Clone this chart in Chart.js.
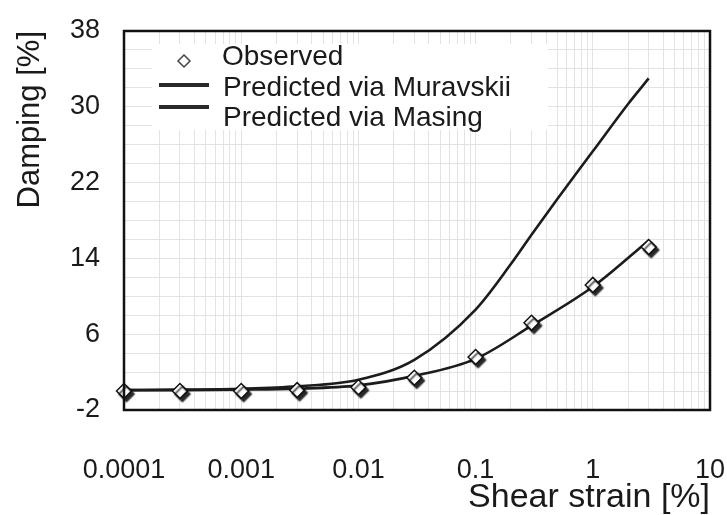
<!DOCTYPE html>
<html>
<head>
<meta charset="utf-8">
<script src="https://cdn.jsdelivr.net/npm/chart.js@4/dist/chart.umd.min.js"></script>
<style>
  html, body { margin: 0; padding: 0; background: #fff; }
  #wrap { width: 727px; height: 515px; position: relative; }
</style>
</head>
<body>
<div id="wrap"><canvas id="chart"></canvas></div>
<script>
// Damping ratio versus shear strain: laboratory points and two model curves
const strainObserved = [0.0001, 0.0003, 0.001, 0.003, 0.01, 0.03, 0.1, 0.3, 1, 3];
const dampingObserved = [0.0, 0.0, 0.0, 0.1, 0.4, 1.4, 3.6, 7.2, 11.2, 15.2];

const strainMuravskii = [0.0001, 0.0003, 0.001, 0.003, 0.01, 0.03, 0.1, 0.3, 1, 3];
const dampingMuravskii = [0.1, 0.1, 0.15, 0.25, 0.6, 1.6, 3.4, 6.9, 11.0, 15.9];

const strainMasing = [0.0001, 0.0003, 0.001, 0.003, 0.01, 0.03, 0.1, 0.2, 0.3, 0.5, 1, 2, 3];
const dampingMasing = [0.1, 0.15, 0.25, 0.5, 1.2, 3.3, 8.6, 13.4, 16.5, 20.3, 25.3, 30.3, 33.0];

const strainTickLabels = ['0.0001', '0.001', '0.01', '0.1', '1', '10'];
const dampingTickLabels = ['-2', '6', '14', '22', '30', '38'];
const seriesNames = ['Observed', 'Predicted via Muravskii', 'Predicted via Masing'];

const INK = '#1a1a1a';
const GRID = '#e3e3e3';
const FONT = "'Liberation Sans', Arial, Helvetica, sans-serif";

// log grid: 1..9 within each decade, plus the last decade value
const decades = strainTickLabels.map(Number);
const strainGrid = [];
for (let d = 0; d < decades.length - 1; d++) {
  for (let k = 1; k <= 9; k++) strainGrid.push(+(decades[d] * k).toPrecision(6));
}
strainGrid.push(decades[decades.length - 1]);

const toPoints = (xs, ys) => xs.map((x, i) => ({ x, y: ys[i] }));

const framePlugin = {
  id: 'plotFrame',
  beforeDatasetsDraw(chart) {
    const { ctx, chartArea: ca } = chart;
    ctx.save();
    ctx.fillStyle = '#ffffff';
    ctx.fillRect(ca.left + 28, ca.top + 13, 396, 86);
    ctx.restore();
  },
  beforeDatasetDraw(chart, args) {
    if (args.index !== 0) return;
    const ctx = chart.ctx;
    ctx.save();
    ctx.shadowColor = 'rgba(0,0,0,0.85)';
    ctx.shadowOffsetX = 2.5;
    ctx.shadowOffsetY = 3;
    ctx.shadowBlur = 1.5;
  },
  afterDatasetDraw(chart, args) {
    if (args.index !== 0) return;
    chart.ctx.restore();
  },
  afterDraw(chart) {
    const { ctx, chartArea: ca } = chart;
    const names = chart.data.datasets.map(d => d.label);
    ctx.save();
    // plot frame
    ctx.strokeStyle = '#111';
    ctx.lineWidth = 2.5;
    ctx.strokeRect(ca.left, ca.top, ca.right - ca.left, ca.bottom - ca.top);

    // legend
    const lx = ca.left, ly = ca.top;
    ctx.lineWidth = 1.5;
    ctx.strokeStyle = '#444';
    const cx = lx + 60, cy = ly + 30, r = 6;
    ctx.beginPath();
    ctx.moveTo(cx, cy - r); ctx.lineTo(cx + r, cy); ctx.lineTo(cx, cy + r); ctx.lineTo(cx - r, cy); ctx.closePath();
    ctx.stroke();

    ctx.strokeStyle = '#2a2a2a';
    ctx.lineWidth = 4;
    ctx.beginPath();
    ctx.moveTo(lx + 35, ly + 54); ctx.lineTo(lx + 85, ly + 54);
    ctx.moveTo(lx + 35, ly + 76); ctx.lineTo(lx + 85, ly + 76);
    ctx.stroke();

    ctx.fillStyle = INK;
    ctx.font = '28px ' + FONT;
    ctx.textAlign = 'left';
    ctx.textBaseline = 'middle';
    ctx.fillText(names[0], lx + 98, ly + 26);
    ctx.fillText(names[1], lx + 99, ly + 57);
    ctx.fillText(names[2], lx + 99, ly + 87);
    ctx.restore();
  }
};

new Chart(document.getElementById('chart'), {
  type: 'line',
  data: {
    datasets: [
      {
        label: seriesNames[0],
        data: toPoints(strainObserved, dampingObserved),
        showLine: false,
        pointStyle: 'rectRot',
        pointRadius: 7.5,
        pointBackgroundColor: '#ffffff',
        pointBorderColor: '#111',
        pointBorderWidth: 1.5,
        clip: false,
        order: 0
      },
      {
        label: seriesNames[1],
        data: toPoints(strainMuravskii, dampingMuravskii),
        borderColor: '#1c1c1c',
        borderWidth: 2.6,
        pointRadius: 0,
        cubicInterpolationMode: 'monotone',
        fill: false,
        order: 1
      },
      {
        label: seriesNames[2],
        data: toPoints(strainMasing, dampingMasing),
        borderColor: '#1c1c1c',
        borderWidth: 2.6,
        pointRadius: 0,
        cubicInterpolationMode: 'monotone',
        fill: false,
        order: 2
      }
    ]
  },
  options: {
    responsive: true,
    maintainAspectRatio: false,
    animation: false,
    layout: { padding: { top: 31, right: 17, bottom: 0, left: 0 } },
    plugins: { legend: { display: false }, tooltip: { enabled: false } },
    scales: {
      x: {
        type: 'logarithmic',
        min: 0.0001,
        max: 10,
        afterBuildTicks(scale) { scale.ticks = strainGrid.map(v => ({ value: v })); },
        afterFit(scale) {
          scale.height = 105;
          scale.paddingLeft = 0;
          scale.paddingRight = 0;
        },
        grid: { color: GRID, lineWidth: 1, drawTicks: false },
        border: { display: false },
        ticks: {
          autoSkip: false,
          maxRotation: 0,
          padding: 44,
          color: INK,
          font: { family: FONT, size: 27 },
          callback(value) {
            const hit = strainTickLabels.find(l => Math.abs(Math.log10(Number(l)) - Math.log10(value)) < 1e-6);
            return hit || '';
          }
        },
        title: {
          display: true,
          text: 'Shear strain [%]',
          align: 'end',
          color: INK,
          font: { family: FONT, size: 34, lineHeight: 1 },
          padding: { top: 0, bottom: 0 }
        }
      },
      y: {
        min: -2,
        max: 38,
        afterFit(scale) {
          scale.width = 124;
          scale.paddingTop = 0;
          scale.paddingBottom = 0;
        },
        grid: { color: GRID, lineWidth: 1, drawTicks: false },
        border: { display: false },
        ticks: {
          stepSize: 2,
          autoSkip: false,
          padding: 24,
          color: INK,
          font: { family: FONT, size: 27 },
          callback(value) {
            const s = String(value);
            return dampingTickLabels.includes(s) ? s : '';
          }
        },
        title: {
          display: true,
          text: 'Damping [%]',
          align: 'end',
          color: INK,
          font: { family: FONT, size: 31 },
          padding: { top: 12, bottom: 0 }
        }
      }
    }
  },
  plugins: [framePlugin]
});
</script>
</body>
</html>
